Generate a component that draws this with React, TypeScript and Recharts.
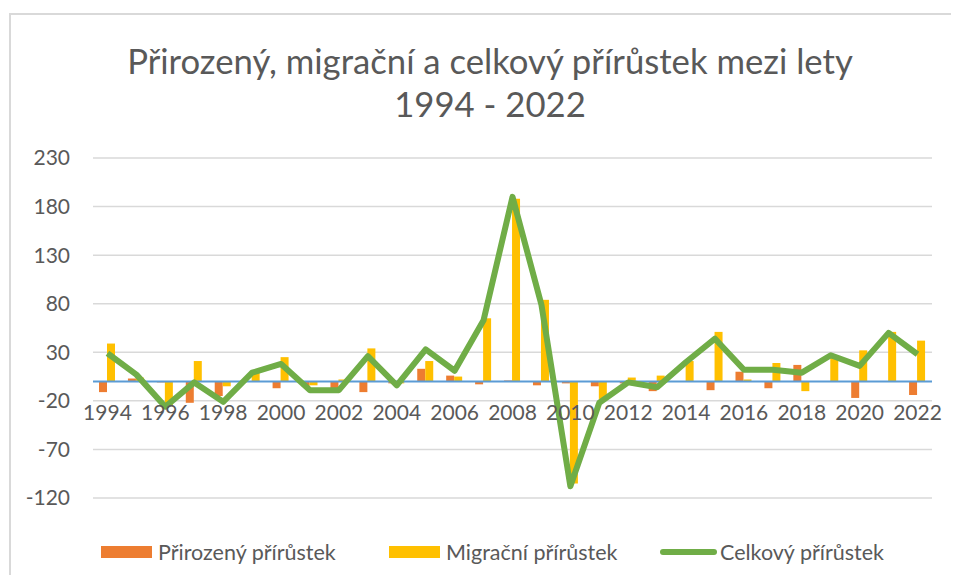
import React from "react";
import {
  ComposedChart,
  Bar,
  Line,
  XAxis,
  YAxis,
  CartesianGrid,
  ReferenceLine,
  Legend,
} from "recharts";

const years = [
  "1994", "1995", "1996", "1997", "1998", "1999", "2000", "2001", "2002", "2003",
  "2004", "2005", "2006", "2007", "2008", "2009", "2010", "2011", "2012", "2013",
  "2014", "2015", "2016", "2017", "2018", "2019", "2020", "2021", "2022",
];

const natural = [
  -11, 3, -1, -22, -15, 0, -7, -5, -8, -11,
  -2, 13, 6, -3, 1, -4, -2, -5, -2, -10,
  0, -9, 10, -7, 17, 0, -17, 0, -14,
];

const migration = [
  39, 4, -25, 21, -5, 9, 25, -4, 2, 34,
  -2, 21, 5, 65, 188, 84, -105, -18, 4, 6,
  21, 51, 2, 19, -10, 26, 32, 51, 42,
];

const total = [
  29, 7, -26, -1, -21, 9, 18, -9, -9, 26,
  -4, 33, 11, 63, 190, 79, -108, -22, -1, -6,
  20, 44, 12, 12, 9, 27, 16, 50, 28,
];

const yTicks = [-120, -70, -20, 30, 80, 130, 180, 230];

const seriesNames = ["Přirozený přírůstek", "Migrační přírůstek", "Celkový přírůstek"];

const data = years.map((year, i) => ({
  year,
  natural: natural[i],
  migration: migration[i],
  total: total[i],
}));

const FONT = "Lato, 'Open Sans', sans-serif";
const TEXT = "#595959";

const W = 951;
const H = 567;
const MARGIN = { top: 150, right: 27, bottom: 47, left: 23 };
const X_AXIS_H = 30;
const PLOT_H = H - MARGIN.top - MARGIN.bottom - X_AXIS_H;
const Y_MIN = -120;
const Y_MAX = 230;
// the category labels sit under the zero line, like Excel's crossing axis
const ZERO_Y = MARGIN.top + (PLOT_H * Y_MAX) / (Y_MAX - Y_MIN);

const LEGEND_X = [93, 381, 652];

function YearTick(props: any) {
  const { x, payload } = props;
  return (
    <text
      x={x}
      y={ZERO_Y + 39}
      textAnchor="middle"
      fill={TEXT}
      fontSize={21}
      fontFamily={FONT}
    >
      {payload.value}
    </text>
  );
}

function LegendContent(props: any) {
  const items = [...(props.payload || [])].sort(
    (a: any, b: any) => seriesNames.indexOf(a.value) - seriesNames.indexOf(b.value)
  );
  return (
    <div style={{ position: "relative", height: 30 }}>
      {items.map((entry: any, i: number) => (
        <div
          key={entry.value}
          style={{
            position: "absolute",
            left: LEGEND_X[i],
            top: 0,
            display: "flex",
            alignItems: "center",
            height: 30,
          }}
        >
          {entry.type === "line" ? (
            <span
              style={{
                display: "inline-block",
                width: 57,
                height: 6,
                borderRadius: 3,
                background: entry.color,
                marginRight: 3,
              }}
            />
          ) : (
            <span
              style={{
                display: "inline-block",
                width: 51,
                height: 12,
                background: entry.color,
                marginRight: 6,
              }}
            />
          )}
          <span style={{ fontFamily: FONT, fontSize: 21.5, color: TEXT }}>
            {entry.value}
          </span>
        </div>
      ))}
    </div>
  );
}

export default function App() {
  return (
    <div style={{ position: "relative", width: W, height: H, overflow: "hidden" }}>
      <div
        style={{
          position: "absolute",
          left: 1,
          top: 5,
          width: W,
          height: H,
          borderTop: "2px solid #d9d9d9",
          borderLeft: "2px solid #d9d9d9",
        }}
      />
      <div
        style={{
          position: "absolute",
          left: 0,
          top: 31,
          width: 964,
          textAlign: "center",
          fontFamily: FONT,
          fontSize: 34.7,
          lineHeight: "43px",
          color: TEXT,
        }}
      >
        Přirozený, migrační a celkový přírůstek mezi lety
        <br />
        1994 - 2022
      </div>
      <ComposedChart
        width={W}
        height={H}
        data={data}
        margin={MARGIN}
        barGap={0}
        style={{ position: "absolute", left: 0, top: 0 }}
      >
        <CartesianGrid vertical={false} stroke="#d9d9d9" strokeWidth={1.5} />
        <XAxis
          dataKey="year"
          height={X_AXIS_H}
          axisLine={false}
          tickLine={false}
          interval={1}
          tick={<YearTick />}
        />
        <YAxis
          width={62}
          domain={[Y_MIN, Y_MAX]}
          ticks={yTicks}
          axisLine={false}
          tickLine={false}
          tickSize={0}
          tickMargin={23}
          tick={{ fill: TEXT, fontSize: 21, fontFamily: FONT }}
        />
        <Bar
          dataKey="natural"
          name={seriesNames[0]}
          fill="#ED7D31"
          barSize={8}
          isAnimationActive={false}
        />
        <Bar
          dataKey="migration"
          name={seriesNames[1]}
          fill="#FFC000"
          barSize={8}
          isAnimationActive={false}
        />
        <ReferenceLine y={0} stroke="#5B9BD5" strokeWidth={2} />
        <Line
          dataKey="total"
          name={seriesNames[2]}
          type="linear"
          stroke="#70AD47"
          strokeWidth={6}
          strokeLinejoin="round"
          dot={false}
          legendType="line"
          isAnimationActive={false}
        />
        <Legend
          layout="horizontal"
          verticalAlign="middle"
          align="center"
          wrapperStyle={{ top: 529, left: 0, width: W }}
          content={<LegendContent />}
        />
      </ComposedChart>
    </div>
  );
}
